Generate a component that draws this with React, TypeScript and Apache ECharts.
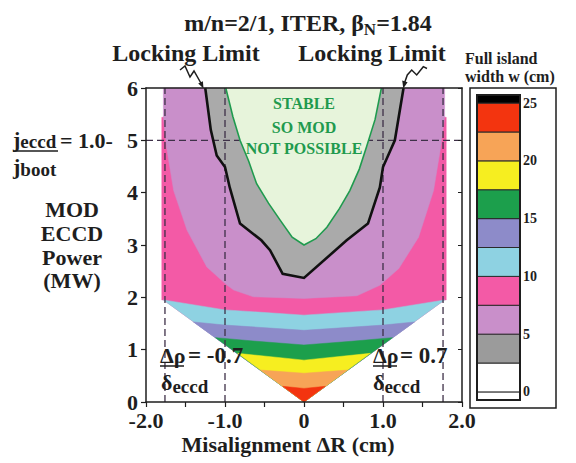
import React, { useEffect, useRef } from "react";
import * as echarts from "echarts";

const SERIF = '"Liberation Serif", "Times New Roman", serif';
const INK = "#1e1e1e";

// ---- axes ----
const xMin = -2;
const xMax = 2;
const xStep = 0.5;
const xTickValues = [-2, -1, 0, 1, 2];
const xTickLabels = ["-2.0", "-1.0", "0", "1.0", "2.0"];
const yMin = 0;
const yMax = 6;
const yStep = 1;
const yTickLabels = ["0", "1", "2", "3", "4", "5", "6"];

// ---- contour regions: [misalignment ΔR (cm), MOD ECCD power (MW)] ----
const pinkRegion = [
  [-1.8, 5.44], [-1.8, 1.95], [-1.78, 1.95], [0, 0], [1.78, 1.95], [1.8, 1.95], [1.8, 5.44],
];
const lavenderRegion = [
  [-1.78, 6], [-1.78, 5.44], [-1.74, 4.87], [-1.65, 4.04], [-1.48, 3.28], [-1.23, 2.58],
  [-0.98, 2.24], [-0.89, 2.14], [-0.64, 2.01], [0, 1.98], [0.67, 2.03], [0.96, 2.23],
  [1.2, 2.55], [1.45, 3.15], [1.64, 4.04], [1.73, 4.87], [1.78, 5.44], [1.78, 6],
];
const cyanRegion = [[-1.78, 1.95], [-1.0, 1.76], [0, 1.66], [1.0, 1.76], [1.78, 1.95], [0, 0]];
const violetRegion = [[-1.4, 1.53], [-1.0, 1.47], [0, 1.37], [1.0, 1.47], [1.4, 1.53], [0, 0]];
const greenRegion = [[-1.12, 1.23], [-0.6, 1.16], [0, 1.09], [0.6, 1.16], [1.12, 1.23], [0, 0]];
const yellowRegion = [[-0.84, 0.93], [0, 0.8], [0.84, 0.93], [0, 0]];
const orangeRegion = [[-0.55, 0.61], [0, 0.55], [0.55, 0.61], [0, 0]];
const redRegion = [[-0.27, 0.3], [0, 0.26], [0.27, 0.3], [0, 0]];

// locking limit (black line)
const lockingLimit = [
  [-1.25, 6], [-1.18, 5.2], [-1.105, 4.71], [-1.0, 4.49], [-0.94, 4.1], [-0.81, 3.41],
  [-0.54, 3.09], [-0.43, 2.9], [-0.27, 2.45], [0, 2.37], [0.54, 3.09], [0.81, 3.41],
  [0.96, 4.1], [1.0, 4.49], [1.15, 5.0], [1.26, 6],
];
// stable boundary (green line)
const stableBoundary = [
  [-0.99, 6], [-0.9, 5.45], [-0.81, 5.0], [-0.7, 4.6], [-0.6, 4.17], [-0.45, 3.8],
  [-0.3, 3.47], [-0.15, 3.15], [0, 3.0], [0.15, 3.12], [0.29, 3.34], [0.45, 3.7],
  [0.58, 4.04], [0.7, 4.45], [0.79, 4.87], [0.9, 5.4], [0.98, 6],
];
// dashed guide lines [x1, y1, x2, y2]
const dashedSegments = [
  [-1.76, 0, -1.76, 6],
  [-1.0, 0, -1.0, 6],
  [1.0, 0, 1.0, 6],
  [1.76, 0, 1.76, 6],
  [-2, 5, 2, 5],
];

// ---- colour bar (full island width w, cm) ----
const colorbarEdges = [-0.7, 0, 2.5, 5, 7.5, 10, 12.5, 15, 17.5, 20, 22.5, 25, 25.7];
const colorbarColors = [
  "#ffffff", "#ffffff", "#9b9b9b", "#c98fca", "#f35aa6", "#8ed2e2",
  "#8d8bc9", "#1c9f4c", "#f6ee20", "#f7a457", "#f3340f", "#000000",
];
const colorbarTickValues = [0, 5, 10, 15, 20, 25];
const colorbarTickLabels = ["0", "5", "10", "15", "20", "25"];

const FILL = {
  pink: "#f35aa6",
  lavender: "#c98fca",
  cyan: "#8ed2e2",
  violet: "#8d8bc9",
  green: "#1c9f4c",
  yellow: "#f6ee20",
  orange: "#f7a457",
  red: "#f3340f",
  gray: "#aaaaaa",
  stable: "#e7f4db",
};

let measureCtx: CanvasRenderingContext2D | null = null;
function tw(text: string, size: number) {
  if (!measureCtx) measureCtx = document.createElement("canvas").getContext("2d");
  if (!measureCtx) return text.length * size * 0.5;
  measureCtx.font = `bold ${size}px ${SERIF}`;
  return measureCtx.measureText(text).width;
}

function T(x: number, y: number, text: string, size: number, align = "left", fill = INK) {
  return {
    type: "text",
    x,
    y,
    z: 50,
    silent: true,
    style: {
      text,
      fill,
      font: `bold ${size}px ${SERIF}`,
      textAlign: align,
      align,
      textVerticalAlign: "middle",
      verticalAlign: "middle",
    },
  };
}
function L(x1: number, y1: number, x2: number, y2: number, w = 1.5) {
  return {
    type: "line",
    z: 50,
    silent: true,
    shape: { x1, y1, x2, y2 },
    style: { stroke: INK, lineWidth: w },
  };
}

function polySeries(points: number[][], fill: string) {
  return {
    type: "custom",
    xAxisIndex: 0,
    yAxisIndex: 0,
    silent: true,
    z: 2,
    data: [points[0]],
    renderItem: (_p: any, api: any) => ({
      type: "polygon",
      shape: { points: points.map((pt) => api.coord(pt)) },
      style: { fill, stroke: fill, lineWidth: 0.5 },
    }),
  };
}
function lineSeries(points: number[][], stroke: string, width: number) {
  return {
    type: "custom",
    xAxisIndex: 0,
    yAxisIndex: 0,
    silent: true,
    z: 2,
    data: [points[0]],
    renderItem: (_p: any, api: any) => ({
      type: "polyline",
      shape: { points: points.map((pt) => api.coord(pt)) },
      style: { fill: "none", stroke, lineWidth: width, lineJoin: "miter" },
    }),
  };
}

function buildGraphics() {
  const g: any[] = [];
  // title
  const a = "m/n=2/1, ITER, β";
  const b = "N";
  const c = "=1.84";
  const wa = tw(a, 24);
  const wb = tw(b, 17);
  const wc = tw(c, 24);
  const x0 = 308 - (wa + wb + wc) / 2;
  g.push(T(x0, 23, a, 24));
  g.push(T(x0 + wa, 29, b, 17));
  g.push(T(x0 + wa + wb, 23, c, 24));

  // Locking limit labels + pointers
  g.push(T(186, 53, "Locking Limit", 24, "center"));
  g.push(T(372, 53, "Locking Limit", 24, "center"));
  g.push({
    type: "polyline", z: 50, silent: true,
    shape: { points: [[180, 70], [185, 66], [190, 77], [194, 71], [202, 85]] },
    style: { stroke: INK, lineWidth: 1.5, fill: "none" },
  });
  g.push({
    type: "polygon", z: 50, silent: true,
    shape: { points: [[203.5, 88.5], [198.2, 83.5], [202.9, 81.3]] },
    style: { fill: INK },
  });
  g.push({
    type: "polyline", z: 50, silent: true,
    shape: { points: [[427, 68.5], [423.3, 66.7], [416.7, 75], [411.7, 70], [407.3, 75], [404.5, 83]] },
    style: { stroke: INK, lineWidth: 1.5, fill: "none" },
  });
  g.push({
    type: "polygon", z: 50, silent: true,
    shape: { points: [[403.3, 88.5], [402.2, 80.5], [407.6, 82.3]] },
    style: { fill: INK },
  });

  // stable region text
  const green = "#1f9a4e";
  g.push(T(304, 103, "STABLE", 16, "center", green));
  g.push(T(304, 127, "SO MOD", 16, "center", green));
  g.push(T(304, 148, "NOT POSSIBLE", 16, "center", green));

  // y axis title
  g.push(T(72, 209, "MOD", 22, "center"));
  g.push(T(72, 233, "ECCD", 22, "center"));
  g.push(T(72, 257, "Power", 22, "center"));
  g.push(T(72, 280, "(MW)", 22, "center"));

  // j_eccd / j_boot = 1.0
  const wj = tw("j", 22);
  g.push(T(13, 139, "j", 22));
  g.push(T(13 + wj, 141, "eccd", 19));
  g.push(L(13, 151, 58, 151, 1.5));
  g.push(T(13, 166, "j", 22));
  g.push(T(13 + wj, 169, "boot", 19));
  g.push(T(60, 140, "= 1.0-", 22));

  // Δρ / δeccd labels
  const wd = tw("δ", 22);
  g.push(T(160, 355, "Δρ", 22));
  g.push(L(160, 366, 184, 366, 1.5));
  g.push(T(188, 355, "= -0.7", 23));
  g.push(T(161, 382, "δ", 22));
  g.push(T(161 + wd, 386, "eccd", 19));

  g.push(T(373, 355, "Δρ", 22));
  g.push(L(373, 366, 397, 366, 1.5));
  g.push(T(400, 355, "= 0.7", 23));
  g.push(T(373, 382, "δ", 22));
  g.push(T(373 + wd, 386, "eccd", 19));

  // x axis name
  g.push(T(288, 444, "Misalignment ΔR (cm)", 22, "center"));

  // colour bar title and frames
  g.push(T(465, 58, "Full island", 16));
  g.push(T(465, 76, "width w (cm)", 16));
  g.push({
    type: "rect", z: 50, silent: true,
    shape: { x: 470, y: 88, width: 86, height: 320 },
    style: { fill: "none", stroke: INK, lineWidth: 1.5 },
  });
  g.push({
    type: "rect", z: 50, silent: true,
    shape: { x: 477, y: 95, width: 43, height: 305 },
    style: { fill: "none", stroke: INK, lineWidth: 2 },
  });
  return g;
}

export default function App() {
  const ref = useRef<HTMLDivElement>(null);
  useEffect(() => {
    if (!ref.current) return;
    const chart = echarts.init(ref.current, null, { renderer: "svg" });
    const tickFont = { fontFamily: SERIF, fontWeight: "bold" as const, fontSize: 22, color: INK };
    const axisLineStyle = { color: INK, width: 1.5 };

    const option: any = {
      animation: false,
      backgroundColor: "#ffffff",
      grid: [
        { left: 146, top: 88, width: 316, height: 314 },
        { left: 477, top: 95, width: 43, height: 305 },
      ],
      xAxis: [
        {
          gridIndex: 0, type: "value", min: xMin, max: xMax, interval: xStep, z: 5,
          axisLine: { show: true, onZero: false, lineStyle: axisLineStyle },
          axisTick: { show: true, length: 5, lineStyle: { color: INK, width: 1.2 } },
          axisLabel: {
            ...tickFont, margin: 7,
            formatter: (v: number) => {
              const i = xTickValues.indexOf(v);
              return i >= 0 ? xTickLabels[i] : "";
            },
          },
          splitLine: { show: false },
        },
        {
          gridIndex: 0, type: "value", min: xMin, max: xMax, position: "top", z: 5,
          axisLine: { show: true, onZero: false, lineStyle: axisLineStyle },
          axisTick: { show: false }, axisLabel: { show: false }, splitLine: { show: false },
        },
        { gridIndex: 1, type: "value", min: 0, max: 1, show: false },
      ],
      yAxis: [
        {
          gridIndex: 0, type: "value", min: yMin, max: yMax, interval: yStep, z: 5,
          axisLine: { show: true, onZero: false, lineStyle: axisLineStyle },
          axisTick: { show: true, length: 5, lineStyle: { color: INK, width: 1.2 } },
          axisLabel: { ...tickFont, margin: 8, formatter: (v: number) => yTickLabels[Math.round(v)] ?? "" },
          splitLine: { show: false },
        },
        {
          gridIndex: 0, type: "value", min: yMin, max: yMax, interval: yStep, position: "right", z: 5,
          axisLine: { show: true, onZero: false, lineStyle: axisLineStyle },
          axisTick: { show: true, inside: true, length: 4, lineStyle: { color: INK, width: 1 } },
          axisLabel: { show: false }, splitLine: { show: false },
        },
        {
          gridIndex: 1, type: "value", min: colorbarEdges[0], max: colorbarEdges[colorbarEdges.length - 1],
          position: "right",
          axisLine: { show: false }, axisTick: { show: false }, splitLine: { show: false },
          axisLabel: {
            customValues: colorbarTickValues,
            fontFamily: SERIF, fontWeight: "bold", fontSize: 14, color: INK, margin: 3,
            formatter: (v: number) => {
              const i = colorbarTickValues.indexOf(v);
              return i >= 0 ? colorbarTickLabels[i] : "";
            },
          },
        },
      ],
      series: [
        polySeries(pinkRegion, FILL.pink),
        polySeries(lavenderRegion, FILL.lavender),
        polySeries(cyanRegion, FILL.cyan),
        polySeries(violetRegion, FILL.violet),
        polySeries(greenRegion, FILL.green),
        polySeries(yellowRegion, FILL.yellow),
        polySeries(orangeRegion, FILL.orange),
        polySeries(redRegion, FILL.red),
        polySeries(lockingLimit, FILL.gray),
        {
          type: "custom", xAxisIndex: 0, yAxisIndex: 0, silent: true, z: 2,
          data: dashedSegments,
          encode: { x: [0, 2], y: [1, 3] },
          renderItem: (_p: any, api: any) => {
            const p1 = api.coord([api.value(0), api.value(1)]);
            const p2 = api.coord([api.value(2), api.value(3)]);
            return {
              type: "line",
              shape: { x1: p1[0], y1: p1[1], x2: p2[0], y2: p2[1] },
              style: { stroke: "#3e3048", lineWidth: 1.3, lineDash: [7, 4] },
            };
          },
        },
        polySeries(stableBoundary, FILL.stable),
        lineSeries(stableBoundary, "#1f9a4e", 1.6),
        lineSeries(lockingLimit, "#111111", 2.6),
        {
          type: "custom", xAxisIndex: 2, yAxisIndex: 2, silent: true, z: 2,
          data: colorbarColors.map((_c, i) => [0, colorbarEdges[i], 1, colorbarEdges[i + 1]]),
          encode: { x: [0, 2], y: [1, 3] },
          renderItem: (p: any, api: any) => {
            const a = api.coord([api.value(0), api.value(3)]);
            const b = api.coord([api.value(2), api.value(1)]);
            return {
              type: "rect",
              shape: { x: a[0], y: a[1], width: b[0] - a[0], height: b[1] - a[1] },
              style: { fill: colorbarColors[p.dataIndex], stroke: "#2a2a2a", lineWidth: 1 },
            };
          },
        },
      ],
      graphic: buildGraphics(),
    };
    chart.setOption(option);
    return () => chart.dispose();
  }, []);
  return <div ref={ref} style={{ width: 576, height: 463, position: "absolute", left: 0, top: 0 }} />;
}
